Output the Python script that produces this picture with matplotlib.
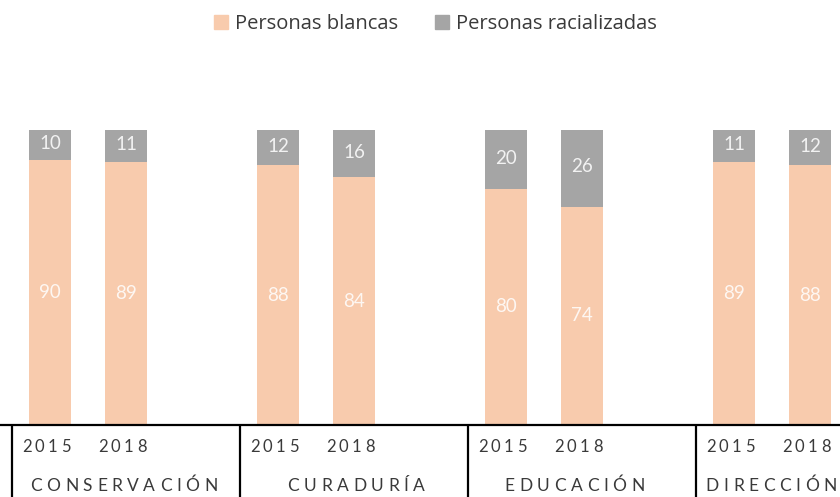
import matplotlib
matplotlib.use("Agg")
import matplotlib.pyplot as plt
from matplotlib.patches import Patch
from matplotlib.transforms import blended_transform_factory, offset_copy
from matplotlib.font_manager import FontProperties, findfont, get_font

# ---- data ----
categories = ["CONSERVACIÓN", "CURADURÍA", "EDUCACIÓN", "DIRECCIÓN"]
years = ["2015", "2018"]
blancas = [90, 89, 88, 84, 80, 74, 89, 88]
racializadas = [10, 11, 12, 16, 20, 26, 11, 12]

C_PEACH = "#F8CBAD"
C_GRAY = "#A5A5A5"
TXT = "#3A3A3A"
FONT = "Lato"

plt.rcParams["font.family"] = [FONT, "DejaVu Sans"]

fig = plt.figure(figsize=(8.4, 4.97), dpi=100)
ax = fig.add_axes([0, 0.1449, 1, 0.5935])

# slot positions: each group has 3 slots (2 bars + gap)
xs = []
for g in range(len(categories)):
    for k in range(len(years)):
        xs.append(3 * g + k)

width = 0.55
ax.bar(xs, blancas, width=width, color=C_PEACH, edgecolor="none")
ax.bar(xs, racializadas, width=width, bottom=blancas, color=C_GRAY, edgecolor="none")

for x, b, r in zip(xs, blancas, racializadas):
    ax.text(x, b / 2, str(b), ha="center", va="center", fontsize=13.5,
            color="white", alpha=0.85)
    ax.text(x, b + r / 2 + 0.5, str(r), ha="center", va="center", fontsize=13.5,
            color="#F2F2F2")

ax.set_xlim(-0.658, 10.395)
ax.set_ylim(0, 100)
ax.axis("off")

# axis line
ax.axhline(0, color="black", lw=1.6, clip_on=False)

bt = blended_transform_factory(ax.transData, fig.transFigure)
for g in range(len(categories)):
    xl = 3 * g - 0.5
    ax.plot([xl, xl], [0.1449, 0.0], transform=bt, color="black", lw=1.6,
            clip_on=False, solid_capstyle="butt")


def spaced_text(x, y, s, size, spacing, color=TXT):
    prop = FontProperties(family=FONT, size=size)
    f = get_font(findfont(prop))
    f.set_size(size, fig.dpi)
    advs = []
    for ch in s:
        g = f.load_char(ord(ch))
        advs.append(g.linearHoriAdvance / 65536.0)
    total = sum(advs) + spacing * (len(s) - 1)
    off = -total / 2
    for ch, a in zip(s, advs):
        tr = offset_copy(bt, fig=fig, x=off, y=0, units="dots")
        fig.text(x, y, ch, transform=tr, ha="left", va="center",
                 fontproperties=prop, color=color)
        off += a + spacing


for i, x in enumerate(xs):
    spaced_text(x - 0.05, 0.1006, years[i % 2], 12, 3.3)

cat_x = [0.97, 4.03, 6.9, 9.49]
for cx, c in zip(cat_x, categories):
    spaced_text(cx, 0.022, c, 12.5, 4.6)

handles = [Patch(color=C_PEACH, label="Personas blancas"),
           Patch(color=C_GRAY, label="Personas racializadas")]
fig.legend(handles=handles, loc="center", bbox_to_anchor=(0.5185, 0.952),
           ncol=2, frameon=False, handlelength=0.7,
           handleheight=0.7, handletextpad=0.35, columnspacing=1.8,
           labelcolor=TXT, prop=FontProperties(family="Open Sans", size=14.5))

fig.savefig("out.png", dpi=100)
